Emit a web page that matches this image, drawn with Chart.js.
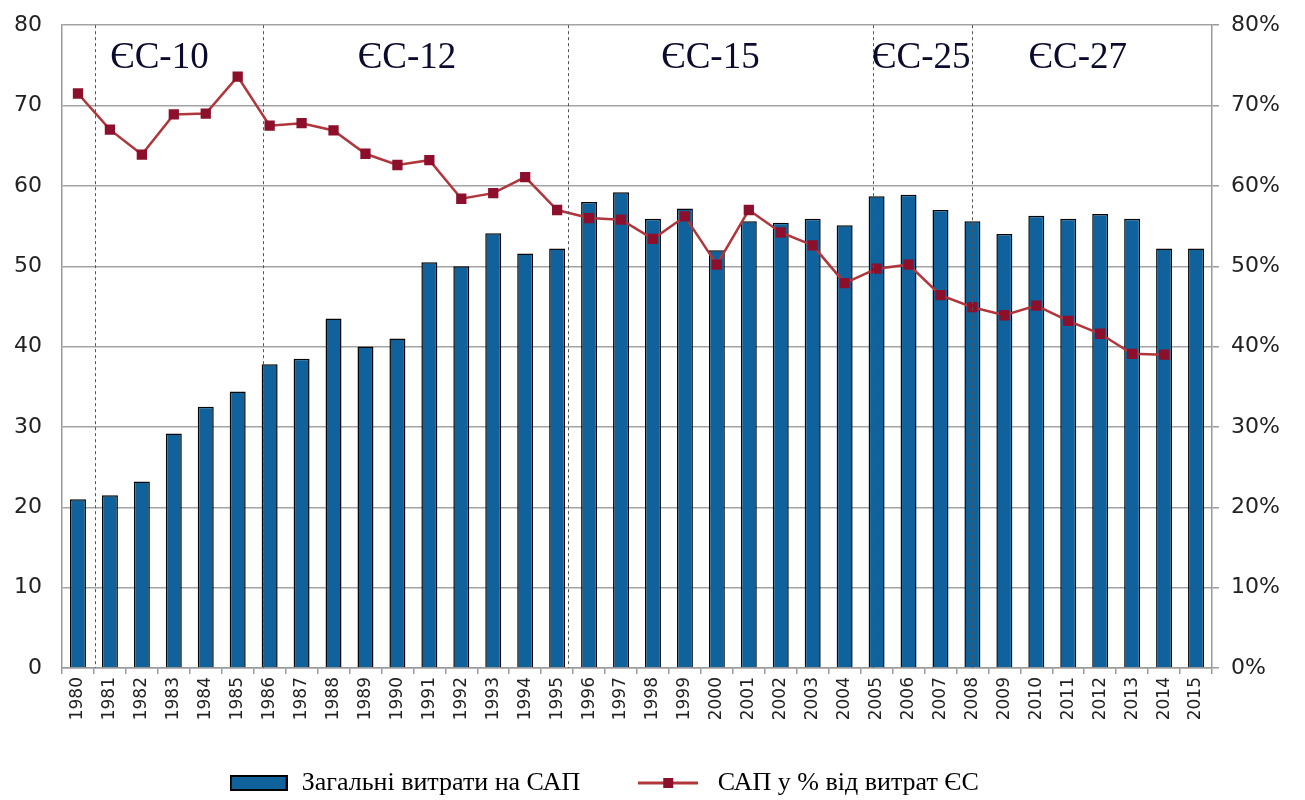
<!DOCTYPE html>
<html>
<head>
<meta charset="utf-8">
<script src="https://cdn.jsdelivr.net/npm/chart.js@4.4.1/dist/chart.umd.min.js"></script>
<style>
  html, body { margin: 0; padding: 0; background: #fff; }
  #wrap { width: 1305px; height: 800px; }
</style>
</head>
<body>
<div id="wrap"><canvas id="capChart" width="1305" height="800"></canvas></div>
<script>
const years = [];
for (let y = 1980; y <= 2015; y++) years.push(String(y));

// Загальні витрати на САП (млрд євро)
const capSpending = [21.0, 21.5, 23.2, 29.2, 32.5, 34.4, 37.8, 38.5, 43.5, 40.0, 41.0, 50.5,
  50.0, 54.1, 51.6, 52.2, 58.0, 59.2, 55.9, 57.2, 52.0, 55.6, 55.4, 55.9,
  55.1, 58.7, 58.9, 57.0, 55.6, 54.0, 56.3, 55.9, 56.5, 55.9, 52.2, 52.2];

// САП у % від витрат ЄС
const capShare = [71.5, 67.0, 63.9, 68.9, 69.0, 73.6, 67.5, 67.8, 66.9, 64.0, 62.6, 63.2,
  58.4, 59.1, 61.1, 57.0, 56.0, 55.8, 53.4, 56.2, 50.2, 57.0, 54.2, 52.6,
  47.9, 49.7, 50.2, 46.4, 44.9, 43.9, 45.1, 43.2, 41.6, 39.1, 39.0, null];

// enlargement periods: dashed dividers (category index) and labels
const eraDividers = [0.53, 5.8, 15.35, 24.9, 28.0];
const eraNames = ['ЄС-10', 'ЄС-12', 'ЄС-15', 'ЄС-25', 'ЄС-27'];
const eraLabelAt = [2.55, 10.3, 19.8, 26.4, 31.3];

const barColor = '#0f629b';
const lineColor = '#b0363c';
const markerColor = '#8c0f2c';

// legend symbols
function barSymbol() {
  const c = document.createElement('canvas');
  c.width = 58; c.height = 16;
  const x = c.getContext('2d');
  x.fillStyle = barColor;
  x.strokeStyle = '#000';
  x.lineWidth = 2;
  x.fillRect(1, 1, 56, 14);
  x.strokeRect(1, 1, 56, 14);
  return c;
}
function lineSymbol() {
  const c = document.createElement('canvas');
  c.width = 60; c.height = 14;
  const x = c.getContext('2d');
  x.strokeStyle = lineColor;
  x.lineWidth = 3;
  x.beginPath(); x.moveTo(0, 7); x.lineTo(60, 7); x.stroke();
  x.fillStyle = markerColor;
  x.fillRect(25, 2, 10, 10);
  return c;
}

const eraPlugin = {
  id: 'eras',
  afterDatasetsDraw(chart) {
    const ctx = chart.ctx, xs = chart.scales.x, ys = chart.scales.y, area = chart.chartArea;
    ctx.save();
    ctx.strokeStyle = '#555';
    ctx.lineWidth = 1;
    ctx.setLineDash([3, 3]);
    eraDividers.forEach(d => {
      const px = Math.round(xs.getPixelForValue(d)) + 0.5;
      ctx.beginPath();
      ctx.moveTo(px, area.top);
      ctx.lineTo(px, area.bottom);
      ctx.stroke();
    });
    ctx.setLineDash([]);
    ctx.fillStyle = '#0b0b2e';
    ctx.font = '37px "Liberation Serif"';
    ctx.textAlign = 'center';
    ctx.textBaseline = 'middle';
    eraNames.forEach((n, i) => {
      ctx.fillText(n, xs.getPixelForValue(eraLabelAt[i]), ys.getPixelForValue(75.9));
    });
    ctx.restore();
  }
};

const ctx = document.getElementById('capChart').getContext('2d');
new Chart(ctx, {
  type: 'bar',
  data: {
    labels: years,
    datasets: [
      {
        type: 'line',
        label: 'САП у % від витрат ЄС',
        data: capShare,
        yAxisID: 'y1',
        borderColor: lineColor,
        borderWidth: 2.5,
        pointStyle: 'rect',
        pointRadius: 5.5,
        pointBackgroundColor: markerColor,
        pointBorderColor: markerColor,
        tension: 0,
        order: 0
      },
      {
        label: 'Загальні витрати на САП',
        data: capSpending,
        yAxisID: 'y',
        backgroundColor: barColor,
        borderColor: '#050505',
        borderWidth: 1.5,
        barPercentage: 0.5,
        categoryPercentage: 1,
        order: 1
      }
    ]
  },
  options: {
    responsive: false,
    animation: false,
    layout: { padding: { top: 25, left: 0, right: 0, bottom: -6 } },
    plugins: {
      tooltip: { enabled: false },
      legend: {
        position: 'bottom',
        labels: {
          usePointStyle: true,
          pointStyleWidth: 60,
          padding: 6,
          color: '#111',
          font: { family: '"Liberation Serif"', size: 26 },
          generateLabels(chart) {
            return [
              { text: 'Загальні витрати на САП        ', pointStyle: barSymbol(), datasetIndex: 1, lineWidth: 0, fillStyle: barColor, strokeStyle: '#000' },
              { text: ' САП у % від витрат ЄС               ', pointStyle: lineSymbol(), datasetIndex: 0, lineWidth: 0, fillStyle: markerColor, strokeStyle: lineColor }
            ];
          }
        }
      }
    },
    scales: {
      x: {
        grid: { offset: true, drawOnChartArea: false, drawTicks: true, tickLength: 6, color: '#9a9a9a', lineWidth: 1.5 },
        border: { color: '#9a9a9a', width: 1.5 },
        ticks: { minRotation: 90, maxRotation: 90, autoSkip: false, color: '#222', padding: 3, font: { family: '"DejaVu Sans"', size: 17 } },
        afterFit(s) { s.height = 96; }
      },
      y: {
        position: 'left',
        min: 0, max: 80,
        ticks: { stepSize: 10, color: '#222', padding: 2, font: { family: '"DejaVu Sans"', size: 22 } },
        grid: { color: '#a3a3a3', lineWidth: 1.5, tickLength: 18, tickColor: 'rgba(0,0,0,0)' },
        border: { color: '#9a9a9a', width: 1.5 },
        afterFit(s) { s.width = 62; }
      },
      y1: {
        position: 'right',
        min: 0, max: 80,
        ticks: { stepSize: 10, color: '#222', padding: 12, font: { family: '"DejaVu Sans"', size: 22 }, callback: v => v + '%' },
        grid: { drawOnChartArea: false, tickLength: 7, color: '#9a9a9a', lineWidth: 1.5 },
        border: { color: '#9a9a9a', width: 1.5 },
        afterFit(s) { s.width = 93; }
      }
    }
  },
  plugins: [eraPlugin]
});
</script>
</body>
</html>
